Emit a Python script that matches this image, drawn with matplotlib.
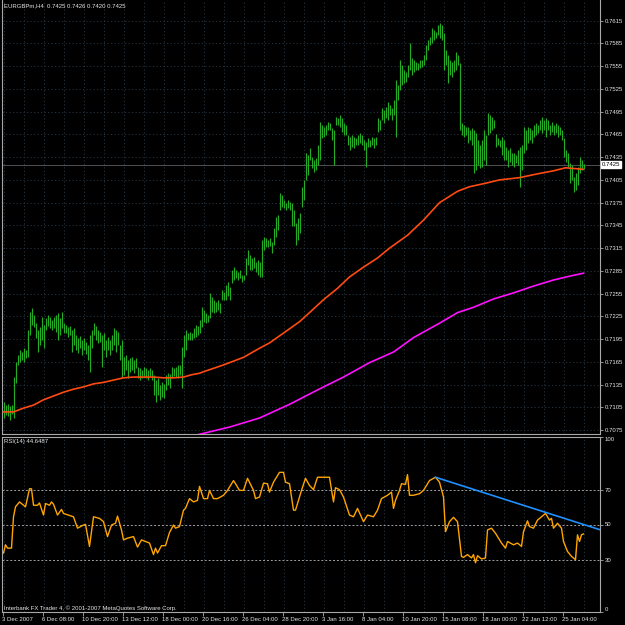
import matplotlib
matplotlib.use("Agg")
import matplotlib.pyplot as plt
import matplotlib.transforms as mtransforms
import numpy as np

plt.rcParams['font.family'] = ['Liberation Sans', 'DejaVu Sans']
plt.rcParams['font.size'] = 4.3

# EURGBPm H4 bars (one value per bar, oldest first)
high = [
    0.7112, 0.7108, 0.7109, 0.7107, 0.7108, 0.7145, 0.7165, 0.7174, 0.7181, 0.7178,
    0.7183, 0.7181, 0.7207, 0.7231, 0.7236, 0.7227, 0.7216, 0.7207, 0.7211, 0.7224,
    0.7214, 0.7223, 0.7227, 0.7224, 0.7220, 0.7224, 0.7227, 0.7229, 0.7223, 0.7231,
    0.7216, 0.7214, 0.7211, 0.7212, 0.7207, 0.7210, 0.7200, 0.7196, 0.7199, 0.7194,
    0.7196, 0.7191, 0.7187, 0.7200, 0.7207, 0.7216, 0.7212, 0.7207, 0.7204, 0.7200,
    0.7203, 0.7194, 0.7198, 0.7194, 0.7200, 0.7210, 0.7207, 0.7204, 0.7187, 0.7194,
    0.7171, 0.7174, 0.7167, 0.7170, 0.7171, 0.7167, 0.7170, 0.7158, 0.7157, 0.7154,
    0.7158, 0.7157, 0.7154, 0.7157, 0.7154, 0.7148, 0.7141, 0.7144, 0.7134, 0.7138,
    0.7136, 0.7148, 0.7150, 0.7149, 0.7158, 0.7157, 0.7158, 0.7161, 0.7161, 0.7185,
    0.7200, 0.7207, 0.7203, 0.7204, 0.7203, 0.7210, 0.7214, 0.7212, 0.7220, 0.7237,
    0.7233, 0.7229, 0.7227, 0.7256, 0.7251, 0.7247, 0.7244, 0.7247, 0.7243, 0.7260,
    0.7257, 0.7266, 0.7270, 0.7264, 0.7286, 0.7290, 0.7286, 0.7284, 0.7286, 0.7280,
    0.7280, 0.7302, 0.7313, 0.7306, 0.7302, 0.7303, 0.7297, 0.7299, 0.7297, 0.7326,
    0.7330, 0.7328, 0.7326, 0.7328, 0.7323, 0.7342, 0.7356, 0.7359, 0.7388, 0.7385,
    0.7379, 0.7375, 0.7379, 0.7376, 0.7375, 0.7365, 0.7348, 0.7355, 0.7361, 0.7396,
    0.7405, 0.7441, 0.7438, 0.7447, 0.7435, 0.7431, 0.7434, 0.7451, 0.7481, 0.7477,
    0.7475, 0.7477, 0.7481, 0.7480, 0.7473, 0.7471, 0.7488, 0.7487, 0.7491, 0.7487,
    0.7480, 0.7477, 0.7464, 0.7462, 0.7464, 0.7462, 0.7460, 0.7464, 0.7467, 0.7464,
    0.7458, 0.7455, 0.7460, 0.7458, 0.7462, 0.7460, 0.7462, 0.7487, 0.7484, 0.7500,
    0.7497, 0.7501, 0.7508, 0.7504, 0.7500, 0.7510, 0.7537, 0.7530, 0.7563, 0.7557,
    0.7550, 0.7547, 0.7557, 0.7586, 0.7566, 0.7563, 0.7561, 0.7559, 0.7563, 0.7563,
    0.7570, 0.7583, 0.7590, 0.7593, 0.7605, 0.7603, 0.7600, 0.7609, 0.7612, 0.7609,
    0.7599, 0.7576, 0.7570, 0.7563, 0.7561, 0.7563, 0.7574, 0.7570, 0.7559, 0.7480,
    0.7477, 0.7475, 0.7475, 0.7471, 0.7473, 0.7471, 0.7467, 0.7458, 0.7451, 0.7458,
    0.7471, 0.7464, 0.7493, 0.7491, 0.7488, 0.7484, 0.7465, 0.7460, 0.7458, 0.7462,
    0.7458, 0.7448, 0.7444, 0.7447, 0.7441, 0.7441, 0.7438, 0.7444, 0.7448, 0.7451,
    0.7475, 0.7471, 0.7475, 0.7473, 0.7471, 0.7477, 0.7480, 0.7477, 0.7484, 0.7488,
    0.7484, 0.7487, 0.7484, 0.7477, 0.7481, 0.7477, 0.7480, 0.7477, 0.7475, 0.7471,
    0.7460, 0.7444, 0.7441, 0.7427, 0.7425, 0.7409, 0.7414, 0.7422, 0.7435, 0.7431,
    0.7426,
]
low = [
    0.7091, 0.7095, 0.7094, 0.7088, 0.7096, 0.7091, 0.7137, 0.7161, 0.7165, 0.7167,
    0.7165, 0.7170, 0.7171, 0.7200, 0.7214, 0.7211, 0.7196, 0.7178, 0.7187, 0.7194,
    0.7183, 0.7207, 0.7212, 0.7210, 0.7207, 0.7210, 0.7204, 0.7194, 0.7200, 0.7210,
    0.7203, 0.7203, 0.7198, 0.7200, 0.7178, 0.7187, 0.7181, 0.7177, 0.7183, 0.7174,
    0.7181, 0.7175, 0.7167, 0.7152, 0.7183, 0.7200, 0.7194, 0.7190, 0.7191, 0.7158,
    0.7181, 0.7171, 0.7181, 0.7174, 0.7181, 0.7187, 0.7178, 0.7187, 0.7167, 0.7145,
    0.7148, 0.7154, 0.7144, 0.7152, 0.7154, 0.7150, 0.7157, 0.7144, 0.7141, 0.7144,
    0.7145, 0.7144, 0.7141, 0.7146, 0.7141, 0.7121, 0.7112, 0.7121, 0.7115, 0.7119,
    0.7117, 0.7128, 0.7134, 0.7131, 0.7144, 0.7146, 0.7145, 0.7144, 0.7148, 0.7131,
    0.7171, 0.7181, 0.7194, 0.7194, 0.7194, 0.7196, 0.7198, 0.7200, 0.7203, 0.7211,
    0.7218, 0.7216, 0.7218, 0.7223, 0.7231, 0.7229, 0.7231, 0.7233, 0.7229, 0.7247,
    0.7247, 0.7247, 0.7252, 0.7247, 0.7269, 0.7273, 0.7276, 0.7273, 0.7276, 0.7270,
    0.7273, 0.7280, 0.7293, 0.7286, 0.7286, 0.7289, 0.7284, 0.7280, 0.7277, 0.7277,
    0.7313, 0.7317, 0.7317, 0.7318, 0.7309, 0.7319, 0.7330, 0.7339, 0.7365, 0.7369,
    0.7368, 0.7365, 0.7368, 0.7365, 0.7344, 0.7344, 0.7319, 0.7326, 0.7335, 0.7369,
    0.7379, 0.7405, 0.7411, 0.7431, 0.7421, 0.7415, 0.7418, 0.7425, 0.7431, 0.7460,
    0.7462, 0.7464, 0.7471, 0.7471, 0.7458, 0.7425, 0.7477, 0.7477, 0.7475, 0.7468,
    0.7464, 0.7464, 0.7451, 0.7444, 0.7448, 0.7447, 0.7451, 0.7451, 0.7454, 0.7451,
    0.7444, 0.7422, 0.7448, 0.7448, 0.7451, 0.7447, 0.7451, 0.7468, 0.7471, 0.7484,
    0.7480, 0.7487, 0.7484, 0.7491, 0.7484, 0.7491, 0.7462, 0.7510, 0.7524, 0.7530,
    0.7533, 0.7534, 0.7541, 0.7550, 0.7543, 0.7547, 0.7550, 0.7550, 0.7553, 0.7554,
    0.7557, 0.7563, 0.7576, 0.7583, 0.7586, 0.7590, 0.7592, 0.7596, 0.7592, 0.7590,
    0.7550, 0.7557, 0.7533, 0.7543, 0.7541, 0.7547, 0.7550, 0.7557, 0.7471, 0.7464,
    0.7462, 0.7464, 0.7454, 0.7458, 0.7451, 0.7414, 0.7418, 0.7425, 0.7421, 0.7422,
    0.7431, 0.7425, 0.7464, 0.7467, 0.7471, 0.7473, 0.7448, 0.7451, 0.7448, 0.7438,
    0.7431, 0.7431, 0.7422, 0.7429, 0.7425, 0.7422, 0.7427, 0.7425, 0.7396, 0.7418,
    0.7441, 0.7444, 0.7454, 0.7458, 0.7454, 0.7462, 0.7464, 0.7467, 0.7471, 0.7467,
    0.7471, 0.7462, 0.7471, 0.7464, 0.7468, 0.7464, 0.7467, 0.7462, 0.7464, 0.7458,
    0.7435, 0.7429, 0.7422, 0.7401, 0.7405, 0.7389, 0.7392, 0.7398, 0.7414, 0.7418,
    0.7420,
]

# moving averages, read at selected bars
ma_fast_idx = [0, 5, 10, 15, 20, 25, 30, 35, 40, 45, 50, 55, 60, 65, 70, 75, 80, 85,
               90, 94, 98, 100, 110, 120, 128, 133, 140, 148, 153, 160, 167, 173, 180,
               187, 193, 202, 210, 218, 227, 233, 240, 248, 258, 267, 275, 281, 290]
ma_fast = [0.7099, 0.7099, 0.7104, 0.7108, 0.7115, 0.7120, 0.7125, 0.7129, 0.7132,
           0.7136, 0.7138, 0.7141, 0.7144, 0.7145, 0.7145, 0.7145, 0.7144, 0.7144,
           0.7145, 0.7148, 0.7150, 0.7152, 0.7161, 0.7171, 0.7183, 0.7190, 0.7203,
           0.7218, 0.7230, 0.7247, 0.7262, 0.7277, 0.7290, 0.7302, 0.7315, 0.7332,
           0.7352, 0.7375, 0.7390, 0.7396, 0.7400, 0.7405, 0.7408, 0.7413, 0.7417,
           0.7421, 0.7419]
ma_slow_idx = [94, 113, 128, 143, 157, 170, 183, 195, 205, 218, 227, 235, 245, 255,
               265, 275, 283, 290]
ma_slow = [0.7067, 0.7079, 0.7091, 0.7109, 0.7128, 0.7145, 0.7164, 0.7178, 0.7197,
           0.7216, 0.7230, 0.7237, 0.7248, 0.7256, 0.7265, 0.7273, 0.7278, 0.7282]

# RSI(14)
rsi_idx = [0, 1, 2, 4, 5, 6, 8, 10, 11, 13, 14, 15, 17, 18, 20, 21, 23, 24, 25, 27,
           29, 30, 35, 37, 40, 41, 43, 45, 48, 50, 52, 54, 56, 57, 59, 60, 62, 65,
           67, 69, 71, 73, 75, 76, 77, 79, 81, 83, 85, 86, 88, 90, 91, 93, 95, 97,
           98, 100, 102, 103, 105, 107, 110, 112, 115, 116, 118, 120, 122, 125, 126,
           128, 130, 132, 133, 135, 138, 140, 141, 143, 145, 146, 149, 151, 153, 155,
           157, 163, 165, 166, 168, 170, 173, 175, 177, 180, 182, 185, 187, 189, 192,
           194, 195, 196, 198, 199, 201, 202, 203, 205, 208, 210, 213, 216, 218, 220,
           221, 223, 225, 227, 229, 230, 232, 234, 235, 236, 237, 239, 241, 242, 244,
           246, 249, 251, 252, 255, 257, 259, 260, 262, 263, 265, 267, 270, 271, 273,
           274, 275, 277, 279, 280, 282, 284, 286, 287, 288, 289, 290]
rsi = [33.7, 38.4, 36.5, 36.5, 54.4, 60.1, 62.9, 61.0, 60.1, 70.4, 70.4, 61.0, 61.0,
       62.3, 55.4, 62.0, 61.0, 62.9, 61.6, 55.4, 58.6, 56.3, 54.4, 47.9, 49.7, 50.1,
       37.5, 54.4, 53.5, 51.6, 43.1, 49.7, 50.7, 54.8, 46.9, 41.2, 42.2, 43.1, 37.1,
       41.2, 40.3, 39.4, 32.8, 36.5, 33.7, 37.9, 37.9, 45.4, 49.7, 47.9, 48.8, 58.2,
       59.2, 64.8, 62.9, 63.8, 71.8, 64.8, 64.8, 69.5, 64.8, 64.8, 66.7, 69.5, 75.1,
       73.3, 69.5, 69.5, 76.4, 69.5, 64.8, 65.7, 73.6, 73.3, 68.5, 74.2, 79.8, 79.8,
       74.2, 73.3, 58.2, 58.2, 69.5, 76.4, 72.3, 69.9, 77.0, 77.0, 62.9, 71.0, 69.9,
       65.7, 55.4, 54.4, 59.2, 51.6, 55.4, 54.4, 58.2, 64.8, 66.7, 68.5, 59.2, 63.8,
       69.5, 73.3, 72.9, 78.5, 66.7, 66.7, 67.6, 69.5, 75.1, 77.0, 74.2, 65.7, 45.9,
       51.6, 54.1, 51.6, 31.8, 31.2, 32.8, 30.9, 32.8, 28.1, 32.2, 30.3, 30.9, 46.9,
       47.9, 45.0, 39.4, 36.5, 40.3, 38.4, 39.4, 37.5, 45.9, 52.1, 48.8, 47.9, 52.5,
       55.4, 56.3, 52.5, 53.5, 47.9, 50.7, 47.9, 40.3, 34.6, 31.8, 29.9, 44.1, 40.3,
       44.1, 44.6]
rsi_levels = [30, 50, 70]
trend_idx = [216, 298]
trend_val = [77.0, 47.1]

price_ticks = [0.7075, 0.7105, 0.7135, 0.7165, 0.7195, 0.7225, 0.7255, 0.7285,
               0.7315, 0.7345, 0.7375, 0.7405, 0.7435, 0.7465, 0.7495, 0.7525,
               0.7555, 0.7585, 0.7615]
date_labels = ["3 Dec 2007", "6 Dec 08:00", "10 Dec 20:00", "13 Dec 12:00",
               "18 Dec 00:00", "20 Dec 16:00", "26 Dec 04:00", "28 Dec 20:00",
               "3 Jan 16:00", "8 Jan 04:00", "10 Jan 20:00", "15 Jan 08:00",
               "18 Jan 00:00", "22 Jan 12:00", "25 Jan 04:00"]
last_price = 0.7425
title = "EURGBPm,H4  0.7425 0.7426 0.7420 0.7425"

fg = '#e6e6e6'
frame = '#a8a8a8'
gridc = '#25323f'
dots = (0, (1.2, 2.4))

fig = plt.figure(figsize=(6.25, 6.25), dpi=100, facecolor='black')
W = 625.0
ax1 = fig.add_axes([2 / W, 1 - 434 / W, 598 / W, 434 / W], facecolor='black')
ax2 = fig.add_axes([2 / W, 1 - 612 / W, 598 / W, 175 / W], facecolor='black')

nbars = len(high)
x = np.arange(nbars)
grid_x = np.arange(0, 300, 10)
xlim = (-0.75, 298.25)

# ---- price window
ax1.set_xlim(*xlim)
ax1.set_ylim(0.70699, 0.76423)
for p in price_ticks:
    ax1.axhline(p, color=gridc, lw=0.7, ls=dots, zorder=0)
for g in grid_x:
    ax1.axvline(g, color=gridc, lw=0.7, ls=dots, zorder=0)
ax1.axhline(last_price, color='#505050', lw=0.7, zorder=1)
ax1.vlines(x, low, high, color='#24ac24', lw=0.85, zorder=2)
ax1.plot(ma_fast_idx, ma_fast, color='#ff4a10', lw=1.2, zorder=3)
ax1.plot(ma_slow_idx, ma_slow, color='#ff10ff', lw=1.2, zorder=3)

ax1.set_xticks([])
ax1.yaxis.tick_right()
ax1.set_yticks(price_ticks)
ax1.set_yticklabels(['%.4f' % p for p in price_ticks])
ax1.tick_params(axis='y', colors=frame, labelcolor=fg, length=2, width=0.6, pad=1.5)
tr = mtransforms.blended_transform_factory(ax1.transAxes, ax1.transData)
ax1.text(1.003, last_price, '0.7425', transform=tr, ha='left', va='center',
         color='black', zorder=5,
         bbox=dict(boxstyle='square,pad=0.18', fc='white', ec='white'))

# ---- RSI window
ax2.set_xlim(*xlim)
ax2.set_ylim(0, 100)
for g in grid_x:
    ax2.axvline(g, color=gridc, lw=0.7, ls=dots, zorder=0)
for lv in rsi_levels:
    ax2.axhline(lv, color='#a0a0a0', lw=0.7, ls=(0, (2, 2)), zorder=1)
ax2.plot(rsi_idx, rsi, color='#ffa500', lw=1.0, zorder=3)
ax2.plot(trend_idx, trend_val, color='#1e90ff', lw=1.2, zorder=4)

ax2.yaxis.tick_right()
ax2.set_yticks([0, 30, 50, 70, 100])
ax2.tick_params(axis='y', colors=frame, labelcolor=fg, length=2, width=0.6, pad=1.5)
labs = ax2.get_yticklabels()
labs[0].set_va('bottom')
labs[-1].set_va('top')
tick_pos = [20 * k - 0.5 for k in range(len(date_labels))]
ax2.set_xticks(tick_pos)
ax2.set_xticklabels(date_labels, ha='left')
ax2.tick_params(axis='x', colors=frame, labelcolor=fg, length=3, width=0.6, pad=0.5)

for ax in (ax1, ax2):
    for s in ax.spines.values():
        s.set_color(frame)
        s.set_linewidth(0.8)
ax1.spines['top'].set_visible(False)

fig.text(4 / W, 1 - 6 / W, title, color=fg, va='center', ha='left')
fig.text(4 / W, 1 - 442 / W, 'RSI(14) 44.6487', color=fg, va='center', ha='left')
fig.text(4 / W, 1 - 608 / W,
         'Interbank FX Trader 4, \u00a9 2001-2007 MetaQuotes Software Corp.',
         color=fg, va='center', ha='left')

fig.savefig('out.png', dpi=100, facecolor='black')
